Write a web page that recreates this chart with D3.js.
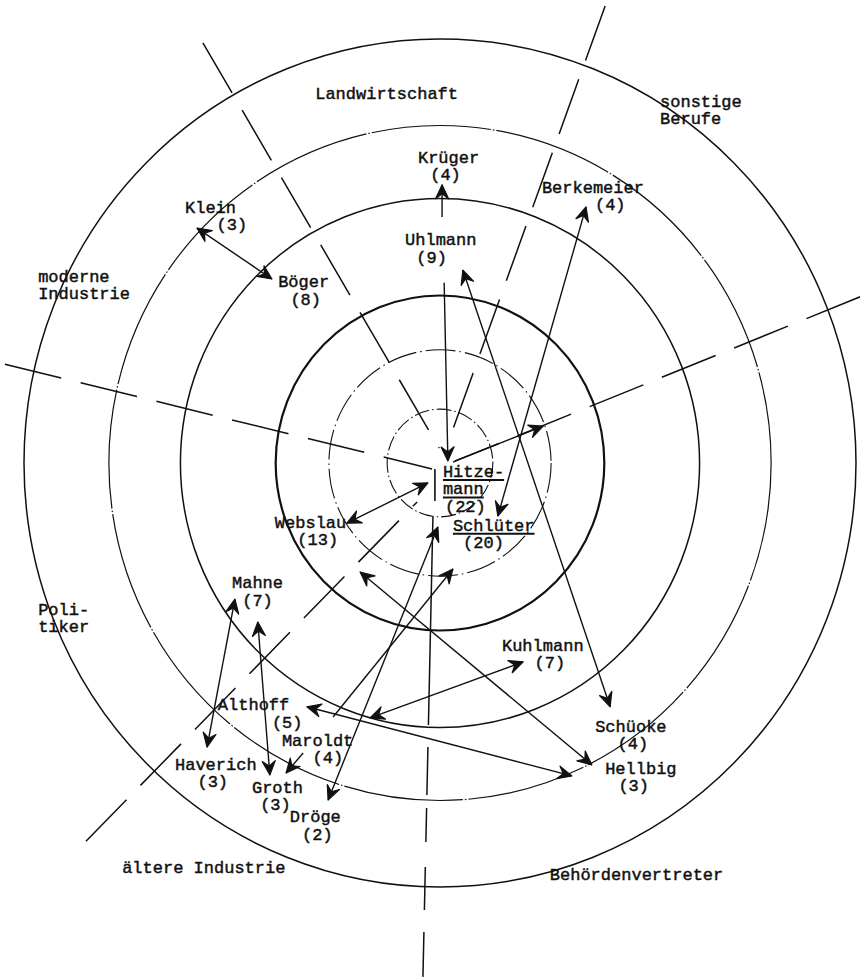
<!DOCTYPE html>
<html>
<head>
<meta charset="utf-8">
<script src="https://cdn.jsdelivr.net/npm/d3@7"></script>
<style>
  html, body { margin: 0; padding: 0; background: #fff; }
  svg { display: block; }
  .lbl {
    font-family: "Liberation Mono", "DejaVu Sans Mono", monospace;
    font-size: 17px;
    fill: #111;
    stroke: #111;
    stroke-width: 0.45;
  }
</style>
</head>
<body>
<svg id="chart"></svg>
<script>
// Sociogram: rings of status, six occupational sectors, choices as arrows.
// All positions in chart units: centre = (0,0), outer ring = 100.

const RING_RADII = [12.7, 26.7, 39.5, 62.4, 79.6, 100];

const SECTOR_NAMES = [
  ["Landwirtschaft"],
  ["sonstige", "Berufe"],
  ["moderne", "Industrie"],
  ["Poli-", "tiker"],
  ["ältere Industrie"],
  ["Behördenvertreter"],
];
const SECTOR_LABEL_AT = [
  [-30.0, 85.8],
  [52.9, 84.0],
  [-96.6, 42.7],
  [-96.6, -35.8],
  [-76.4, -96.7],
  [26.4, -98.3],
];

// sector boundaries, outer end -> inner end
const SECTOR_LINES = [
  [[-57.0, 99.1], [-0.2, 3.5]],
  [[39.7, 107.8], [2.6, 6.6]],
  [[101.0, 39.2], [3.1, 0.2]],
  [[-104.6, 23.3], [-1.9, -1.4]],
  [[-85.1, -89.2], [-5.5, -9.2]],
  [[-4.1, -121.2], [-1.7, -12.7]],
];

const PEOPLE = [
  { name: ["Hitze-", "mann"], score: 22, at: [0.7, -3.3], shift: 0.2, top: true },
  { name: ["Schlüter"], score: 20, at: [3.1, -16.0], shift: 1.0, top: true },
  { name: ["Webslau"], score: 13, at: [-39.7, -15.3], shift: 2.2 },
  { name: ["Uhlmann"], score: 9, at: [-8.4, 51.4], shift: 1.1 },
  { name: ["Böger"], score: 8, at: [-38.9, 41.5], shift: 1.2 },
  { name: ["Mahne"], score: 7, at: [-50.0, -29.5], shift: 1.0 },
  { name: ["Kuhlmann"], score: 7, at: [14.9, -44.3], shift: 3.2 },
  { name: ["Althoff"], score: 5, at: [-53.4, -58.3], shift: 5.3 },
  { name: ["Krüger"], score: 4, at: [-5.3, 70.8], shift: 1.2 },
  { name: ["Berkemeier"], score: 4, at: [24.5, 63.7], shift: 5.2 },
  { name: ["Maroldt"], score: 4, at: [-38.0, -66.7], shift: 3.0 },
  { name: ["Schüoke"], score: 4, at: [37.3, -63.4], shift: 2.2 },
  { name: ["Klein"], score: 3, at: [-61.3, 59.0], shift: 3.1 },
  { name: ["Haverich"], score: 3, at: [-63.7, -72.4], shift: 2.2 },
  { name: ["Groth"], score: 3, at: [-45.2, -77.8], shift: 0.8 },
  { name: ["Hellbig"], score: 3, at: [39.7, -73.3], shift: 1.3 },
  { name: ["Dröge"], score: 2, at: [-36.1, -84.7], shift: 1.2 },
];

// choices: from, to, start point, end point, arrowheads
const CHOICES = [
  { from: "Klein", to: "Böger", a: [-58.4, 55.4], b: [-40.4, 43.4], both: true },
  { from: "Uhlmann", to: "Krüger", a: [0.5, 58.0], b: [0.5, 65.6], both: false },
  { from: "Uhlmann", to: "Hitzemann", a: [1.0, 42.5], b: [1.9, 0.5], both: false },
  { from: "Uhlmann", to: "Schüoke", a: [5.5, 45.5], b: [40.9, -57.5], both: true },
  { from: "Berkemeier", to: "Schlüter", a: [35.1, 60.4], b: [13.9, -12.5], both: true },
  { from: "Hitzemann", to: "sonstige Berufe", a: [3.6, 0.5], b: [24.8, 8.7], both: false },
  { from: "Webslau", to: "Hitzemann", a: [-22.4, -14.2], b: [-2.9, -4.7], both: true },
  { from: "Dröge", to: "Schlüter", a: [-26.9, -79.5], b: [-0.5, -15.1], both: true },
  { from: "Maroldt", to: "Schlüter", a: [-25.7, -59.9], b: [3.1, -25.0], both: false },
  { from: "Maroldt", to: "Groth", a: [-32.9, -68.4], b: [-37.0, -73.1], both: false },
  { from: "Hellbig", to: "Webslau", a: [36.5, -71.2], b: [-19.2, -25.7], both: true },
  { from: "Althoff", to: "Hellbig", a: [-32.0, -57.5], b: [31.7, -73.8], both: true },
  { from: "Kuhlmann", to: "Althoff", a: [20.0, -46.9], b: [-16.8, -60.1], both: true },
  { from: "Mahne", to: "Haverich", a: [-49.3, -32.1], b: [-56.0, -67.0], both: true },
  { from: "Groth", to: "Mahne", a: [-40.9, -73.6], b: [-43.8, -37.5], both: true },
];

const WIDTH = 860;
const HEIGHT = 978;
const INK = "#111";
const LINE_H = 17.5;

const svg = d3.select("#chart").attr("width", WIDTH).attr("height", HEIGHT);

svg.append("rect").attr("width", WIDTH).attr("height", HEIGHT).attr("fill", "#fff");

// the scan is a little taller than wide, so x and y get their own scale
const x = d3.scaleLinear().domain([-100, 100]).range([24, 856]);
const y = d3.scaleLinear().domain([-100, 100]).range([887, 39]);

const defs = svg.append("defs");
defs.append("marker")
  .attr("id", "head")
  .attr("viewBox", "-16 -8 17 16")
  .attr("markerUnits", "userSpaceOnUse")
  .attr("markerWidth", 17)
  .attr("markerHeight", 16)
  .attr("refX", 0)
  .attr("refY", 0)
  .attr("orient", "auto-start-reverse")
  .append("path")
  .attr("d", "M0,0 L-14,-6.5 L-9,0 L-14,6.5 Z")
  .attr("fill", INK)
  .attr("stroke", INK)
  .attr("stroke-width", 1.2)
  .attr("stroke-linejoin", "round");

// rings, inner to outer
const ringStyle = [
  { w: 1.1, dash: "15,3,1.5,3" },
  { w: 1.1, dash: "30,4,1.5,4" },
  { w: 2.2, dash: null },
  { w: 1.5, dash: null },
  { w: 1.2, dash: "120,2,1.5,2" },
  { w: 1.5, dash: null },
];

svg.append("g")
  .selectAll("ellipse")
  .data(RING_RADII)
  .join("ellipse")
  .attr("cx", x(0))
  .attr("cy", y(0))
  .attr("rx", (d) => x(d) - x(0))
  .attr("ry", (d) => y(0) - y(d))
  .attr("fill", "none")
  .attr("stroke", INK)
  .attr("stroke-width", (d, i) => ringStyle[i].w)
  .attr("stroke-dasharray", (d, i) => ringStyle[i].dash);

// sector boundaries, long dashes; the bottom one turns solid near the centre
svg.append("g")
  .selectAll("line")
  .data(SECTOR_LINES)
  .join("line")
  .attr("x1", (d) => x(d[0][0]))
  .attr("y1", (d) => y(d[0][1]))
  .attr("x2", (d) => x(d[1][0]))
  .attr("y2", (d) => y(d[1][1]))
  .attr("stroke", INK)
  .attr("stroke-width", 1.5)
  .attr("stroke-dasharray", (d, i) =>
    i === 5 ? "45,22,43,25,34,13,48,22,400" : "58,20"
  );

// choices
svg.append("g")
  .selectAll("line")
  .data(CHOICES)
  .join("line")
  .attr("x1", (d) => x(d.a[0]))
  .attr("y1", (d) => y(d.a[1]))
  .attr("x2", (d) => x(d.b[0]))
  .attr("y2", (d) => y(d.b[1]))
  .attr("stroke", INK)
  .attr("stroke-width", 1.4)
  .attr("marker-end", "url(#head)")
  .attr("marker-start", (d) => (d.both ? "url(#head)" : null));

// sector labels
const sectorG = svg.append("g");
SECTOR_NAMES.forEach((lines, i) => {
  const t = sectorG.append("text")
    .attr("class", "lbl")
    .attr("x", x(SECTOR_LABEL_AT[i][0]))
    .attr("y", y(SECTOR_LABEL_AT[i][1]));
  lines.forEach((s, j) => {
    t.append("tspan")
      .attr("x", x(SECTOR_LABEL_AT[i][0]))
      .attr("dy", j === 0 ? 0 : LINE_H)
      .text(s);
  });
});

// people: name lines, then (score) a few typewriter columns over
const charW = 17 * 0.6;
const peopleG = svg.append("g");
PEOPLE.forEach((p) => {
  const px = x(p.at[0]);
  const py = y(p.at[1]);
  const rows = p.name.concat([`(${p.score})`]);
  rows.forEach((s, j) => {
    const isScore = j === rows.length - 1;
    const tx = px + (isScore ? p.shift * charW : 0);
    const ty = py + j * LINE_H;
    const t = peopleG.append("text")
      .attr("class", "lbl")
      .attr("x", tx)
      .attr("y", ty)
      .text(s);
    // the two most chosen are underlined
    if (p.top && !isScore) {
      const len = t.node().getComputedTextLength();
      peopleG.append("line")
        .attr("x1", tx)
        .attr("x2", tx + len)
        .attr("y1", ty + 3)
        .attr("y2", ty + 3)
        .attr("stroke", INK)
        .attr("stroke-width", 2);
    }
  });
  if (p.top && p.name.length > 1) {
    peopleG.append("line")
      .attr("x1", px - 8)
      .attr("x2", px - 8)
      .attr("y1", py - 8)
      .attr("y2", py + 24)
      .attr("stroke", INK)
      .attr("stroke-width", 1.6);
  }
});
</script>
</body>
</html>
